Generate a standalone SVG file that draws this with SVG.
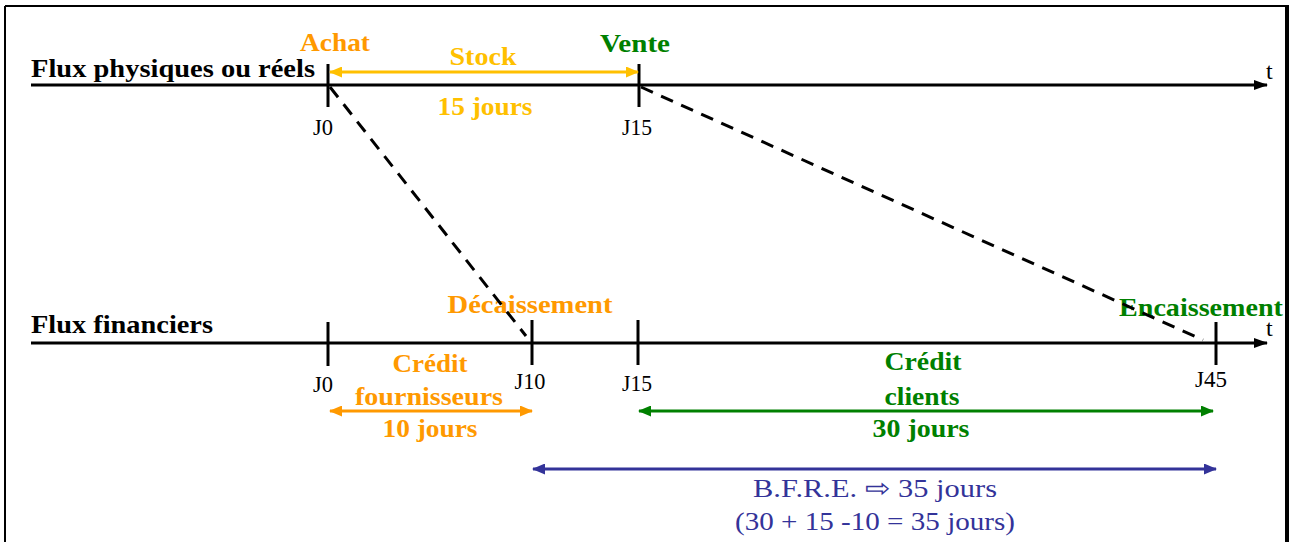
<svg xmlns="http://www.w3.org/2000/svg" width="1295" height="542" viewBox="0 0 1295 542">
<style>
.lbl{font-family:"Liberation Serif","Times New Roman",serif;font-weight:bold;font-size:26px}
.j{font-family:"Liberation Serif","Times New Roman",serif;font-size:24px;fill:#000}
.axis{stroke:#000;stroke-width:3;fill:none}
.tick{stroke:#000;stroke-width:3}
.dash{stroke:#000;stroke-width:3;stroke-dasharray:13 9;fill:none}
.or{fill:#FF9900}.ye{fill:#FFC000}.gr{fill:#008000}.bl{fill:#333399}.bk{fill:#000}
</style>
<defs>
<marker id="ahK" markerUnits="userSpaceOnUse" viewBox="0 0 14 10" refX="13" refY="5" markerWidth="14" markerHeight="10" orient="auto-start-reverse"><path d="M0,0 L14,5 L0,10 Z" fill="#000"/></marker>
<marker id="ahY" markerUnits="userSpaceOnUse" viewBox="0 0 13 11" refX="12" refY="5.5" markerWidth="13" markerHeight="11" orient="auto-start-reverse"><path d="M0,0 L13,5.5 L0,11 Z" fill="#FFC000"/></marker>
<marker id="ahO" markerUnits="userSpaceOnUse" viewBox="0 0 13 11" refX="12" refY="5.5" markerWidth="13" markerHeight="11" orient="auto-start-reverse"><path d="M0,0 L13,5.5 L0,11 Z" fill="#FF9900"/></marker>
<marker id="ahG" markerUnits="userSpaceOnUse" viewBox="0 0 13 11" refX="12" refY="5.5" markerWidth="13" markerHeight="11" orient="auto-start-reverse"><path d="M0,0 L13,5.5 L0,11 Z" fill="#008000"/></marker>
<marker id="ahB" markerUnits="userSpaceOnUse" viewBox="0 0 13 11" refX="12" refY="5.5" markerWidth="13" markerHeight="11" orient="auto-start-reverse"><path d="M0,0 L13,5.5 L0,11 Z" fill="#333399"/></marker>
</defs>
<rect width="1295" height="542" fill="#fff"/>
<g id="frame">
<line x1="5" y1="6" x2="1287" y2="6" stroke="#000" stroke-width="2"/>
<line x1="5" y1="6" x2="5" y2="542" stroke="#000" stroke-width="2"/>
<line x1="1287" y1="5" x2="1287" y2="542" stroke="#000" stroke-width="4"/>
</g>
<g id="axis-physique">
<line class="axis" x1="31" y1="85" x2="1267" y2="85" marker-end="url(#ahK)"/>
<text class="lbl bk" x="31" y="77" textLength="284" lengthAdjust="spacingAndGlyphs">Flux physiques ou réels</text>
<text class="j" x="1266" y="79">t</text>
</g>
<g id="axis-financier">
<line class="axis" x1="31" y1="343" x2="1267" y2="343" marker-end="url(#ahK)"/>
<text class="lbl bk" x="31" y="333" textLength="182" lengthAdjust="spacingAndGlyphs">Flux financiers</text>
<text class="j" x="1266" y="336">t</text>
</g>
<g id="node-achat">
<line class="tick" x1="328" y1="64" x2="328" y2="107"/>
<text class="lbl or" x="335" y="51" text-anchor="middle" textLength="70" lengthAdjust="spacingAndGlyphs">Achat</text>
<text class="j" x="323" y="135" text-anchor="middle" textLength="20" lengthAdjust="spacingAndGlyphs">J0</text>
</g>
<g id="node-vente">
<line class="tick" x1="639" y1="64" x2="639" y2="107"/>
<text class="lbl gr" x="635" y="52" text-anchor="middle" textLength="70" lengthAdjust="spacingAndGlyphs">Vente</text>
<text class="j" x="637" y="135" text-anchor="middle" textLength="30" lengthAdjust="spacingAndGlyphs">J15</text>
</g>
<g id="node-stock">
<text class="lbl ye" x="483" y="65" text-anchor="middle" textLength="67" lengthAdjust="spacingAndGlyphs">Stock</text>
<text class="lbl ye" x="485" y="115" text-anchor="middle" textLength="95" lengthAdjust="spacingAndGlyphs">15 jours</text>
</g>
<g id="node-j0-fin">
<line class="tick" x1="328" y1="322" x2="328" y2="366"/>
<text class="j" x="323" y="392" text-anchor="middle" textLength="20" lengthAdjust="spacingAndGlyphs">J0</text>
</g>
<g id="node-decaissement">
<line class="tick" x1="532" y1="320" x2="532" y2="365"/>
<text class="lbl or" x="530" y="313" text-anchor="middle" textLength="165" lengthAdjust="spacingAndGlyphs">Décaissement</text>
<text class="j" x="530" y="389" text-anchor="middle" textLength="31" lengthAdjust="spacingAndGlyphs">J10</text>
</g>
<g id="node-j15-fin">
<line class="tick" x1="638" y1="320" x2="638" y2="365"/>
<text class="j" x="637" y="391" text-anchor="middle" textLength="30" lengthAdjust="spacingAndGlyphs">J15</text>
</g>
<g id="node-encaissement">
<line class="tick" x1="1216" y1="322" x2="1216" y2="365"/>
<text class="lbl gr" x="1201" y="316" text-anchor="middle" textLength="164" lengthAdjust="spacingAndGlyphs">Encaissement</text>
<text class="j" x="1211" y="387" text-anchor="middle" textLength="32" lengthAdjust="spacingAndGlyphs">J45</text>
</g>
<g id="node-credit-fournisseurs">
<text class="lbl or" x="430" y="372" text-anchor="middle" textLength="75" lengthAdjust="spacingAndGlyphs">Crédit</text>
<text class="lbl or" x="429" y="405" text-anchor="middle" textLength="148" lengthAdjust="spacingAndGlyphs">fournisseurs</text>
<text class="lbl or" x="430" y="437" text-anchor="middle" textLength="95" lengthAdjust="spacingAndGlyphs">10 jours</text>
</g>
<g id="node-credit-clients">
<text class="lbl gr" x="923" y="370" text-anchor="middle" textLength="77" lengthAdjust="spacingAndGlyphs">Crédit</text>
<text class="lbl gr" x="922" y="405" text-anchor="middle" textLength="75" lengthAdjust="spacingAndGlyphs">clients</text>
<text class="lbl gr" x="921" y="437" text-anchor="middle" textLength="97" lengthAdjust="spacingAndGlyphs">30 jours</text>
</g>
<g id="node-bfre">
<text class="lbl bl" style="font-weight:normal" x="875" y="497" text-anchor="middle" textLength="244" lengthAdjust="spacingAndGlyphs">B.F.R.E. ⇨ 35 jours</text>
<text class="lbl bl" style="font-weight:normal" x="875" y="530" text-anchor="middle" textLength="280" lengthAdjust="spacingAndGlyphs">(30 + 15 -10 = 35 jours)</text>
</g>
<g id="connectors">
<line class="dash" x1="330" y1="87" x2="526" y2="336"/>
<line class="dash" x1="641" y1="87" x2="1203" y2="340"/>
<line x1="330" y1="72" x2="638" y2="72" stroke="#FFC000" stroke-width="3" marker-start="url(#ahY)" marker-end="url(#ahY)"/>
<line x1="330" y1="411" x2="532" y2="411" stroke="#FF9900" stroke-width="3" marker-start="url(#ahO)" marker-end="url(#ahO)"/>
<line x1="639" y1="411" x2="1213" y2="411" stroke="#008000" stroke-width="3" marker-start="url(#ahG)" marker-end="url(#ahG)"/>
<line x1="533" y1="469" x2="1216" y2="469" stroke="#333399" stroke-width="3" marker-start="url(#ahB)" marker-end="url(#ahB)"/>
</g>
</svg>
